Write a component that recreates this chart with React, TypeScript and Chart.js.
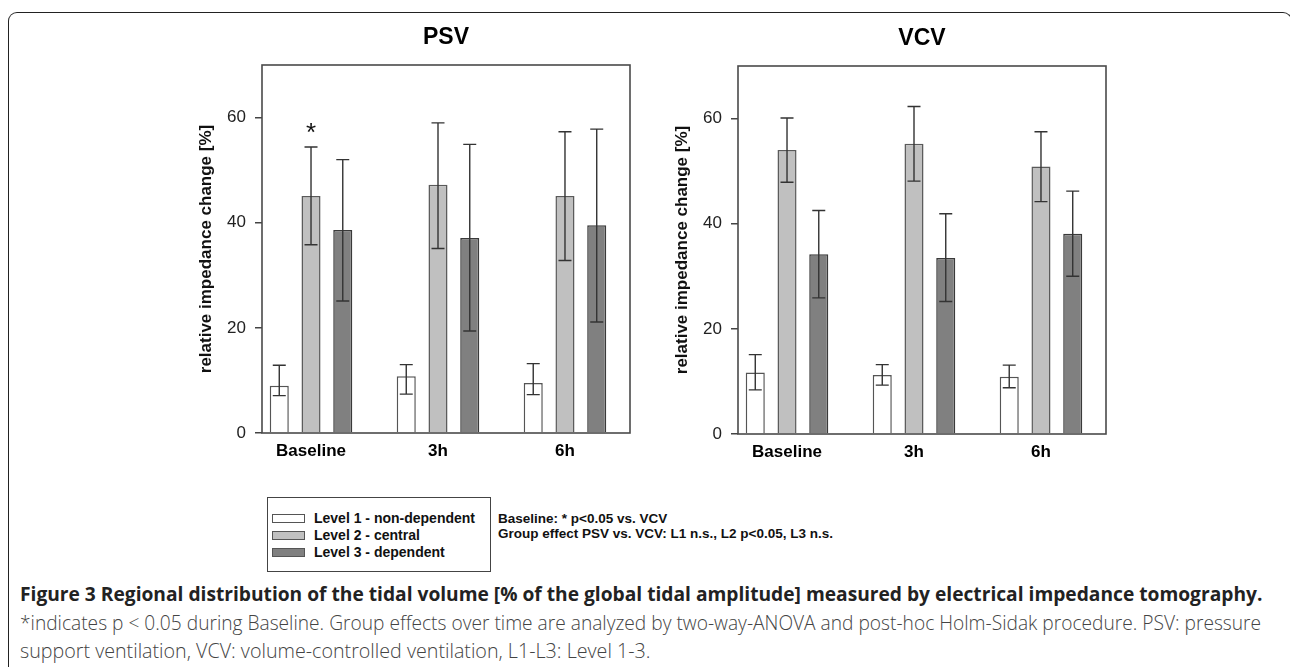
import React, { useEffect, useLayoutEffect, useRef } from 'react';
import { Chart, registerables } from 'chart.js';

Chart.register(...registerables);

// ---------- data ----------
const categories = ['Baseline', '3h', '6h'];
const levels = ['Level 1 - non-dependent', 'Level 2 - central', 'Level 3 - dependent'];

const psvL1 = [9.0, 10.8, 9.5];
const psvL1Hi = [12.9, 13.0, 13.2];
const psvL1Lo = [7.1, 7.4, 7.3];
const psvL2 = [45.1, 47.2, 45.1];
const psvL2Hi = [54.4, 59.0, 57.3];
const psvL2Lo = [35.8, 35.1, 32.8];
const psvL3 = [38.6, 37.1, 39.5];
const psvL3Hi = [52.0, 54.9, 57.8];
const psvL3Lo = [25.1, 19.4, 21.1];

const vcvL1 = [11.7, 11.2, 10.9];
const vcvL1Hi = [15.1, 13.2, 13.1];
const vcvL1Lo = [8.4, 9.3, 8.8];
const vcvL2 = [54.0, 55.2, 50.9];
const vcvL2Hi = [60.1, 62.3, 57.5];
const vcvL2Lo = [47.9, 48.1, 44.2];
const vcvL3 = [34.2, 33.5, 38.1];
const vcvL3Hi = [42.5, 41.9, 46.2];
const vcvL3Lo = [25.9, 25.2, 30.0];

// significance markers (per level, per category)
const psvStars = [
  [false, false, false],
  [true, false, false],
  [false, false, false],
];
const vcvStars = [
  [false, false, false],
  [false, false, false],
  [false, false, false],
];

const yTicks = [0, 20, 40, 60];
const yMin = 0;
const yMax = 70;
const xMin = -0.386;
const xMax = 2.512;

const yTitle = 'relative impedance change [%]';
const noteLines = ['Baseline: * p<0.05 vs. VCV', 'Group effect PSV vs. VCV: L1 n.s., L2 p<0.05, L3 n.s.'];
const captionTitle =
  'Figure 3 Regional distribution of the tidal volume [% of the global tidal amplitude] measured by electrical impedance tomography.';
const captionLine2 =
  '*indicates p < 0.05 during Baseline. Group effects over time are analyzed by two-way-ANOVA and post-hoc Holm-Sidak procedure. PSV: pressure';
const captionLine3 = 'support ventilation, VCV: volume-controlled ventilation, L1-L3: Level 1-3.';

// ---------- styles ----------
const FONT = '"Liberation Sans", Arial, Helvetica, sans-serif';
const fills = ['#ffffff', '#c0c0c0', '#808080'];
const borders = ['#555555', '#5a5a5a', '#3a3a3a'];

type PanelProps = {
  title: string;
  series: number[][];
  hi: number[][];
  lo: number[][];
  stars: boolean[][];
  left: number;
  top: number;
};

function Panel({ title, series, hi, lo, stars, left, top }: PanelProps) {
  const ref = useRef<HTMLCanvasElement>(null);
  useEffect(() => {
    if (!ref.current) return;
    const errPlugin = {
      id: 'errbars',
      afterDatasetsDraw(chart: any) {
        const ctx = chart.ctx as CanvasRenderingContext2D;
        const ys = chart.scales.y;
        ctx.save();
        ctx.strokeStyle = '#333';
        ctx.lineWidth = 1.4;
        chart.data.datasets.forEach((_ds: any, di: number) => {
          const meta = chart.getDatasetMeta(di);
          meta.data.forEach((bar: any, j: number) => {
            const x = bar.x;
            const yh = ys.getPixelForValue(hi[di][j]);
            const yl = ys.getPixelForValue(lo[di][j]);
            const cap = 6.5;
            ctx.beginPath();
            ctx.moveTo(x, yh);
            ctx.lineTo(x, yl);
            ctx.moveTo(x - cap, yh);
            ctx.lineTo(x + cap, yh);
            ctx.moveTo(x - cap, yl);
            ctx.lineTo(x + cap, yl);
            ctx.stroke();
            if (stars[di][j]) {
              ctx.fillStyle = '#111';
              ctx.font = `26px ${FONT}`;
              ctx.textAlign = 'center';
              ctx.textBaseline = 'alphabetic';
              ctx.fillText('*', x, yh - 6);
            }
          });
        });
        ctx.restore();
      },
    };
    const framePlugin = {
      id: 'frame',
      afterDatasetsDraw(chart: any) {
        const { ctx, chartArea } = chart;
        ctx.save();
        ctx.strokeStyle = '#4a4a4a';
        ctx.lineWidth = 1.6;
        ctx.strokeRect(chartArea.left, chartArea.top, chartArea.right - chartArea.left, chartArea.bottom - chartArea.top);
        ctx.restore();
      },
    };
    const chart = new Chart(ref.current, {
      type: 'bar',
      data: {
        datasets: levels.map((lab, i) => ({
          label: lab,
          data: series[i].map((v, j) => ({ x: j, y: v })),
          backgroundColor: fills[i],
          borderColor: borders[i],
          borderWidth: 1.5,
          categoryPercentage: 0.75,
          barPercentage: 0.6,
        })),
      },
      options: {
        animation: false,
        responsive: false,
        maintainAspectRatio: false,
        layout: { padding: { left: 0, right: 20, top: 0, bottom: 0 } },
        plugins: {
          legend: { display: false },
          tooltip: { enabled: false },
          title: {
            display: true,
            text: title,
            fullSize: false,
            color: '#000',
            font: { family: FONT, size: 23, weight: 'bold' },
            padding: { top: 4, bottom: 13.4 },
          },
        },
        scales: {
          x: {
            type: 'linear',
            min: xMin,
            max: xMax,
            offset: false,
            grid: { display: false, drawTicks: false },
            border: { display: false },
            afterBuildTicks: (s: any) => {
              s.ticks = categories.map((_c, i) => ({ value: i }));
            },
            afterFit: (s: any) => {
              s.height = 57;
            },
            ticks: {
              autoSkip: false,
              maxRotation: 0,
              padding: 8,
              color: '#000',
              font: { family: FONT, size: 17, weight: 'bold' },
              callback: (v: any) => categories[Number(v)] ?? '',
            },
          },
          y: {
            min: yMin,
            max: yMax,
            afterBuildTicks: (s: any) => {
              s.ticks = yTicks.map((v) => ({ value: v }));
            },
            afterFit: (s: any) => {
              s.width = 72;
            },
            grid: { display: true, drawOnChartArea: false, drawTicks: true, tickLength: 7, color: '#444', lineWidth: 1.5 },
            border: { display: false },
            ticks: { padding: 9, color: '#222', font: { family: FONT, size: 17 } },
            title: {
              display: true,
              text: yTitle,
              color: '#111',
              font: { family: FONT, size: 17, weight: 'bold' },
              padding: { top: 6.5, bottom: 0 },
            },
          },
        },
      } as any,
      plugins: [errPlugin, framePlugin],
    });
    return () => chart.destroy();
  }, []);
  return (
    <canvas ref={ref} width={460} height={470} style={{ position: 'absolute', left, top, width: 460, height: 470 }} />
  );
}

function FitText({ text, left, centerY, width, font, color, lh }: any) {
  const ref = useRef<HTMLSpanElement>(null);
  useLayoutEffect(() => {
    const fit = () => {
      const el = ref.current;
      if (!el) return;
      const w = el.offsetWidth;
      if (w) el.style.transform = `scaleX(${width / w})`;
    };
    fit();
    const f: any = (document as any).fonts;
    if (f && f.ready) f.ready.then(fit);
  }, [text, width]);
  return (
    <span
      ref={ref}
      style={{
        position: 'absolute',
        left,
        top: centerY - lh / 2,
        whiteSpace: 'nowrap',
        font,
        color,
        lineHeight: lh + 'px',
        transformOrigin: '0 50%',
        display: 'inline-block',
      }}
    >
      {text}
    </span>
  );
}

export default function App() {
  const psvSeries = [psvL1, psvL2, psvL3];
  const psvHi = [psvL1Hi, psvL2Hi, psvL3Hi];
  const psvLo = [psvL1Lo, psvL2Lo, psvL3Lo];
  const vcvSeries = [vcvL1, vcvL2, vcvL3];
  const vcvHi = [vcvL1Hi, vcvL2Hi, vcvL3Hi];
  const vcvLo = [vcvL1Lo, vcvL2Lo, vcvL3Lo];
  const swTops = [514, 531, 548];
  return (
    <div
      style={{
        position: 'fixed',
        left: 0,
        top: 0,
        width: 1290,
        height: 667,
        overflow: 'hidden',
        background: '#fff',
        fontFamily: FONT,
      }}
    >
      <div
        style={{
          position: 'absolute',
          left: 8,
          top: 12,
          width: 1284,
          height: 720,
          boxSizing: 'border-box',
          borderLeft: '1.5px solid #222',
          borderTop: '1.5px solid #222',
          borderRight: '1.5px solid #222',
          borderTopLeftRadius: 9,
          borderTopRightRadius: 9,
        }}
      />
      <Panel title="PSV" series={psvSeries} hi={psvHi} lo={psvLo} stars={psvStars} left={190} top={20} />
      <Panel title="VCV" series={vcvSeries} hi={vcvHi} lo={vcvLo} stars={vcvStars} left={666} top={21} />

      {/* legend */}
      <div
        style={{
          position: 'absolute',
          left: 267,
          top: 497,
          width: 224,
          height: 75,
          boxSizing: 'border-box',
          border: '1.5px solid #444',
        }}
      />
      {levels.map((lab, i) => (
        <React.Fragment key={lab}>
          <div
            style={{
              position: 'absolute',
              left: 272,
              top: swTops[i],
              width: 33,
              height: 9,
              boxSizing: 'border-box',
              background: fills[i],
              border: '1.2px solid #555',
            }}
          />
          <span
            style={{
              position: 'absolute',
              left: 314,
              top: swTops[i] + 4.5 - 9,
              lineHeight: '18px',
              font: `bold 14px ${FONT}`,
              color: '#111',
              whiteSpace: 'nowrap',
            }}
          >
            {lab}
          </span>
        </React.Fragment>
      ))}
      {noteLines.map((t, i) => (
        <span
          key={t}
          style={{
            position: 'absolute',
            left: 498,
            top: 520 + i * 15 - 9,
            lineHeight: '18px',
            font: `bold 13.5px ${FONT}`,
            color: '#111',
            whiteSpace: 'nowrap',
          }}
        >
          {t}
        </span>
      ))}

      {/* caption */}
      <FitText
        text={captionTitle}
        left={20}
        centerY={594}
        width={1242}
        lh={26}
        font={`bold 20px "Open Sans", ${FONT}`}
        color="#222"
      />
      <FitText
        text={captionLine2}
        left={20}
        centerY={623}
        width={1241}
        lh={26}
        font={`300 20px "Open Sans", ${FONT}`}
        color="#444"
      />
      <FitText
        text={captionLine3}
        left={20}
        centerY={651}
        width={631}
        lh={26}
        font={`300 20px "Open Sans", ${FONT}`}
        color="#444"
      />
    </div>
  );
}
